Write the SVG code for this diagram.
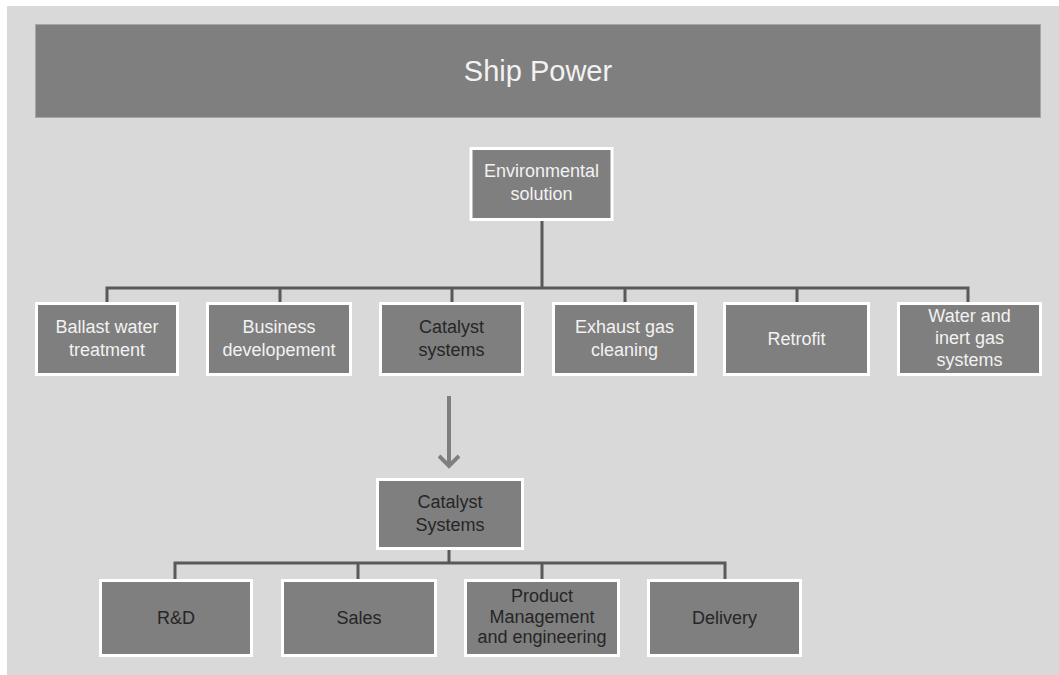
<svg xmlns="http://www.w3.org/2000/svg" width="1059" height="675" viewBox="0 0 1059 675">
  <defs>
    <style>
      .box { fill: #7f7f7f; stroke: #ffffff; stroke-width: 3; }
      .lbl { font-family: "Liberation Sans", Arial, sans-serif; font-size: 18px; text-anchor: middle; }
      .light { fill: #f2f2f2; }
      .dark { fill: #262626; }
      .tree { fill: none; stroke: #595959; stroke-width: 3; }
    </style>
    <!-- open chevron, drawn pointing along +x so orient="auto" follows the line -->
    <marker id="chevron" viewBox="0 0 22 22" refX="19" refY="11" markerWidth="22" markerHeight="22" markerUnits="userSpaceOnUse" orient="auto">
      <path d="M9,1 L19,11 L9,21" fill="none" stroke="#7f7f7f" stroke-width="4"/>
    </marker>
  </defs>

  <!-- backdrop -->
  <rect x="0" y="0" width="1059" height="675" fill="#ffffff"/>
  <rect x="7" y="6" width="1052" height="669" fill="#d9d9d9"/>

  <!-- title banner -->
  <g id="ship-power">
    <rect x="35.5" y="24.5" width="1005" height="93" fill="#7f7f7f" stroke="#a6a6a6" stroke-width="1"/>
    <text x="538" y="81" font-family="'Liberation Sans', Arial, sans-serif" font-size="29" fill="#f2f2f2" text-anchor="middle">Ship Power</text>
  </g>

  <!-- connectors -->
  <g id="connectors">
    <path class="tree" d="M542,220 V288 M107,302 V288 H968 V302 M280,288 V302 M452,288 V302 M625,288 V302 M797,288 V302"/>
    <path class="tree" d="M449,550 V563 M175,579 V563 H725 V579 M358,563 V579 M542,563 V579"/>
    <line x1="449" y1="396" x2="449" y2="466" stroke="#7f7f7f" stroke-width="4" marker-end="url(#chevron)"/>
  </g>

  <g id="environmental-solution">
    <rect class="box" x="471" y="148.5" width="141" height="71"/>
    <text class="lbl light" x="541.5" y="177">Environmental</text>
    <text class="lbl light" x="541.5" y="200">solution</text>
  </g>

  <g id="ballast-water">
    <rect class="box" x="36.5" y="303.5" width="141" height="71"/>
    <text class="lbl light" x="107" y="333">Ballast water</text>
    <text class="lbl light" x="107" y="356">treatment</text>
  </g>

  <g id="business-development">
    <rect class="box" x="207.5" y="303.5" width="143" height="71"/>
    <text class="lbl light" x="279" y="333">Business</text>
    <text class="lbl light" x="279" y="356">developement</text>
  </g>

  <g id="catalyst-systems">
    <rect class="box" x="380.5" y="303.5" width="142" height="71"/>
    <text class="lbl dark" x="451.5" y="333">Catalyst</text>
    <text class="lbl dark" x="451.5" y="356">systems</text>
  </g>

  <g id="exhaust-gas">
    <rect class="box" x="553.5" y="303.5" width="142" height="71"/>
    <text class="lbl light" x="624.5" y="333">Exhaust gas</text>
    <text class="lbl light" x="624.5" y="356">cleaning</text>
  </g>

  <g id="retrofit">
    <rect class="box" x="724.5" y="303.5" width="144" height="71"/>
    <text class="lbl light" x="796.5" y="345">Retrofit</text>
  </g>

  <g id="water-inert-gas">
    <rect class="box" x="898.5" y="303.5" width="142" height="71"/>
    <text class="lbl light" x="969.5" y="322">Water and</text>
    <text class="lbl light" x="969.5" y="344">inert gas</text>
    <text class="lbl light" x="969.5" y="366">systems</text>
  </g>

  <g id="catalyst-systems-unit">
    <rect class="box" x="377.5" y="479.5" width="145" height="69"/>
    <text class="lbl dark" x="450" y="508">Catalyst</text>
    <text class="lbl dark" x="450" y="531">Systems</text>
  </g>

  <g id="rnd">
    <rect class="box" x="100.5" y="580.5" width="151" height="75"/>
    <text class="lbl dark" x="176" y="624">R&amp;D</text>
  </g>

  <g id="sales">
    <rect class="box" x="282.5" y="580.5" width="153" height="75"/>
    <text class="lbl dark" x="359" y="624">Sales</text>
  </g>

  <g id="product-management">
    <rect class="box" x="465.5" y="580.5" width="153" height="75"/>
    <text class="lbl dark" x="542" y="602" font-size="16">Product</text>
    <text class="lbl dark" x="542" y="623" font-size="16">Management</text>
    <text class="lbl dark" x="542" y="643" font-size="16">and engineering</text>
  </g>

  <g id="delivery">
    <rect class="box" x="648.5" y="580.5" width="152" height="75"/>
    <text class="lbl dark" x="724.5" y="624">Delivery</text>
  </g>
</svg>
